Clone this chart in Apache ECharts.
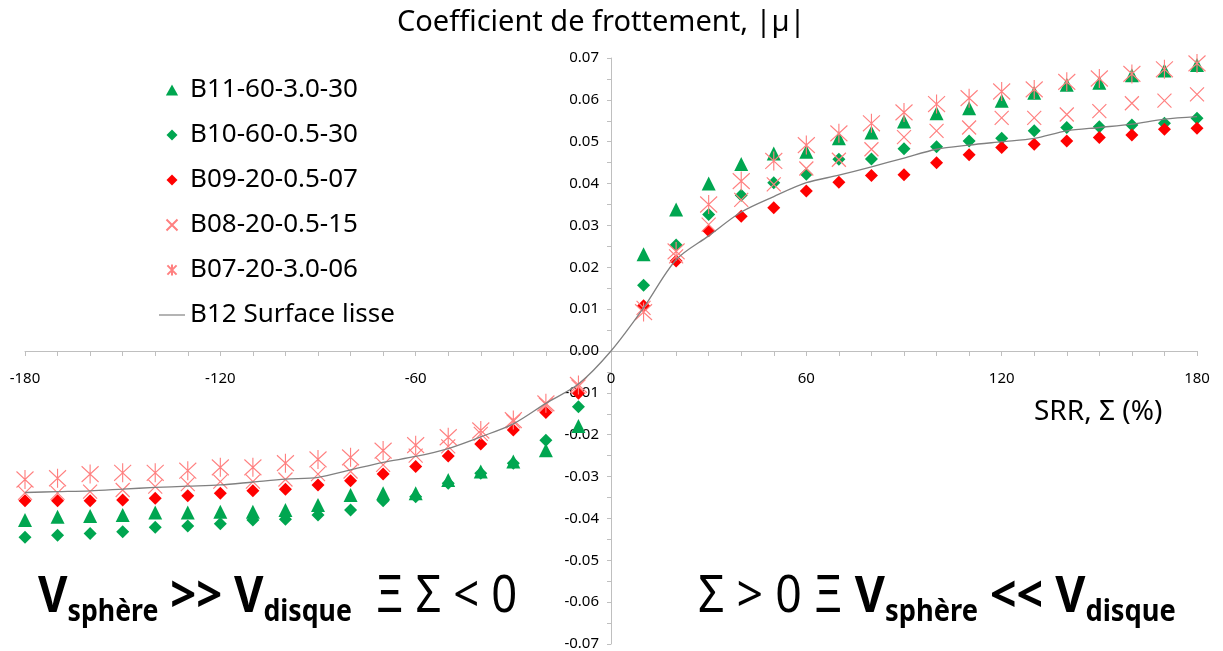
<!DOCTYPE html>
<html>
<head>
<meta charset="utf-8">
<script src="https://cdn.jsdelivr.net/npm/echarts@6/dist/echarts.min.js"></script>
<style>
html,body{margin:0;padding:0;background:#fff;}
#chart{width:1223px;height:651px;}
</style>
</head>
<body>
<div id="chart"></div>
<script>
// SRR values (%) for the scatter series
var srr = [-180,-170,-160,-150,-140,-130,-120,-110,-100,-90,-80,-70,-60,-50,-40,-30,-20,-10,
           10,20,30,40,50,60,70,80,90,100,110,120,130,140,150,160,170,180];
// SRR values for the smooth-surface reference line
var srrLine = [-180,-170,-160,-150,-140,-130,-120,-110,-100,-90,-80,-70,-60,-50,-40,-30,-20,-10,0,
               10,20,30,40,50,60,70,80,90,100,110,120,130,140,150,160,170,180];

var seriesNames = ['B11-60-3.0-30','B10-60-0.5-30','B09-20-0.5-07','B08-20-0.5-15','B07-20-3.0-06','B12 Surface lisse'];

var b11 = [-0.0404,-0.0396,-0.0394,-0.0392,-0.0386,-0.0386,-0.0384,-0.0384,-0.0380,-0.0368,-0.0344,-0.0340,-0.0340,-0.0308,-0.0288,-0.0264,-0.0237,-0.0179,
           0.0231,0.0338,0.0400,0.0447,0.0472,0.0476,0.0508,0.0522,0.0548,0.0568,0.0580,0.0598,0.0617,0.0636,0.0641,0.0659,0.0670,0.0683];
var b10 = [-0.0445,-0.0440,-0.0436,-0.0432,-0.0421,-0.0418,-0.0413,-0.0404,-0.0402,-0.0392,-0.0380,-0.0358,-0.0348,-0.0316,-0.0292,-0.0268,-0.0213,-0.0133,
           0.0157,0.0253,0.0326,0.0372,0.0402,0.0422,0.0458,0.0459,0.0483,0.0488,0.0502,0.0508,0.0526,0.0534,0.0536,0.0540,0.0544,0.0556];
var b09 = [-0.0358,-0.0358,-0.0358,-0.0356,-0.0352,-0.0346,-0.0340,-0.0334,-0.0330,-0.0320,-0.0310,-0.0294,-0.0276,-0.0251,-0.0222,-0.0189,-0.0147,-0.0101,
           0.0108,0.0215,0.0287,0.0322,0.0342,0.0382,0.0403,0.0419,0.0421,0.0450,0.0469,0.0486,0.0494,0.0502,0.0510,0.0516,0.0530,0.0532];
var b08 = [-0.0339,-0.0339,-0.0336,-0.0332,-0.0324,-0.0318,-0.0312,-0.0312,-0.0307,-0.0294,-0.0288,-0.0272,-0.0250,-0.0228,-0.0198,-0.0168,-0.0128,-0.0085,
           0.0103,0.0226,0.0302,0.0361,0.0398,0.0436,0.0457,0.0482,0.0511,0.0526,0.0534,0.0557,0.0557,0.0565,0.0573,0.0592,0.0598,0.0613];
var b07 = [-0.0307,-0.0304,-0.0294,-0.0291,-0.0291,-0.0286,-0.0278,-0.0278,-0.0268,-0.0259,-0.0254,-0.0238,-0.0225,-0.0206,-0.0190,-0.0165,-0.0125,-0.0081,
           0.0093,0.0238,0.0350,0.0406,0.0454,0.0492,0.0520,0.0544,0.0570,0.0590,0.0604,0.0620,0.0625,0.0643,0.0651,0.0662,0.0673,0.0687];
var b12 = [-0.0338,-0.0336,-0.0334,-0.0330,-0.0326,-0.0323,-0.0320,-0.0313,-0.0306,-0.0302,-0.0284,-0.0266,-0.0252,-0.0233,-0.0205,-0.0174,-0.0125,-0.0079,0,
           0.0103,0.0218,0.0275,0.0332,0.0369,0.0402,0.0420,0.0440,0.0461,0.0482,0.0492,0.0500,0.0508,0.0526,0.0534,0.0542,0.0554,0.0560];

var xTickMin = -180, xTickMax = 180, xTickStep = 60;
var yTickMin = -0.07, yTickMax = 0.07, yTickStep = 0.01;

function pairs(xs, ys){ return xs.map(function(x,i){ return [x, ys[i]]; }); }

var GREEN = '#00A650', RED = '#FF0000', PINK = '#FF8080', GREY = '#808080';
var FONT = "'Noto Sans', 'Open Sans', sans-serif";
var BIGFONT = "'Noto Sans', sans-serif";

var W = 1223, H = 651;
var G = {left: 25, right: 26, top: 58, bottom: 7};
var gridW = W - G.left - G.right, gridH = H - G.top - G.bottom;

var chart = echarts.init(document.getElementById('chart'), null, {renderer:'canvas'});

var subStyle = {fontSize: 30, fontWeight: 'bold', fontFamily: BIGFONT, color:'#000', verticalAlign:'top', lineHeight: 64, padding:[25,0,0,0]};
var mainBold = {fontSize: 51, fontWeight: 'bold', fontFamily: BIGFONT, color:'#000', verticalAlign:'top', lineHeight: 64};
var mainReg = {fontSize: 51, fontWeight: 'normal', fontFamily: BIGFONT, color:'#000', verticalAlign:'top', lineHeight: 64};

var TRI = 'path://M5,0L10,9L0,9Z';
var DIA = 'path://M5,0L10,5L5,10L0,5Z';
var XMARK = 'path://M0,0L10,10M10,0L0,10';
var STAR = 'path://M0,0L10,10M10,0L0,10M5,-1L5,11';

var option = {
  animation: false,
  backgroundColor: '#fff',
  grid: {left: G.left, right: G.right, top: G.top, bottom: G.bottom, containLabel: false, outerBoundsMode: 'none'},
  xAxis: {
    type: 'value', min: xTickMin, max: xTickMax, interval: xTickStep,
    position: 'bottom', offset: -gridH / 2,
    axisLine: {onZero: false, lineStyle: {color: '#BFBFBF', width: 1}},
    axisTick: {show: true, length: 5, lineStyle: {color: '#BFBFBF'}},
    minorTick: {show: true, splitNumber: 6, length: 5, lineStyle: {color: '#BFBFBF'}},
    splitLine: {show: false},
    axisLabel: {fontSize: 15, color: '#000', fontFamily: FONT, margin: 20}
  },
  yAxis: {
    type: 'value', min: yTickMin, max: yTickMax, interval: yTickStep,
    position: 'left', offset: -gridW / 2,
    axisLine: {onZero: false, show: true, lineStyle: {color: '#BFBFBF', width: 1}},
    axisTick: {show: true, length: 4, lineStyle: {color: '#BFBFBF'}},
    minorTick: {show: true, splitNumber: 2, length: 4, lineStyle: {color: '#BFBFBF'}},
    splitLine: {show: false},
    axisLabel: {fontSize: 15, color: '#000', fontFamily: FONT, margin: 12,
      formatter: function(v){ return v.toFixed(2); }}
  },
  legend: {
    orient: 'vertical', left: 154, top: 72, itemGap: 19, itemWidth: 26, itemHeight: 11,
    textStyle: {fontSize: 26, color: '#000', fontFamily: FONT, lineHeight: 25},
    data: [
      {name: seriesNames[0], icon: TRI},
      {name: seriesNames[1], icon: DIA},
      {name: seriesNames[2], icon: DIA},
      {name: seriesNames[3], icon: XMARK},
      {name: seriesNames[4], icon: STAR},
      {name: seriesNames[5], icon: 'path://M0,0L22,0L22,1L0,1Z'}
    ]
  },
  series: [
    {name: seriesNames[0], type: 'scatter', symbol: 'triangle', symbolSize: 14,
     itemStyle: {color: GREEN, opacity: 1}, data: pairs(srr, b11)},
    {name: seriesNames[1], type: 'scatter', symbol: 'diamond', symbolSize: 13,
     itemStyle: {color: GREEN, opacity: 1}, data: pairs(srr, b10)},
    {name: seriesNames[2], type: 'scatter', symbol: 'diamond', symbolSize: 13,
     itemStyle: {color: RED, opacity: 1}, data: pairs(srr, b09)},
    {name: seriesNames[3], type: 'scatter', symbol: XMARK, symbolSize: 14,
     itemStyle: {color: PINK, borderColor: PINK, borderWidth: 1.2, opacity: 1}, data: pairs(srr, b08)},
    {name: seriesNames[4], type: 'scatter', symbol: STAR, symbolSize: [17,19],
     itemStyle: {color: PINK, borderColor: PINK, borderWidth: 1.2, opacity: 1}, data: pairs(srr, b07)},
    {name: seriesNames[5], type: 'line', symbol: 'none', smooth: 0.3,
     lineStyle: {color: GREY, width: 1.3}, itemStyle: {color: GREY}, data: pairs(srrLine, b12)}
  ],
  graphic: [
    {type: 'text', x: 397, y: 8,
     style: {text: 'Coefficient de frottement, |µ|', fontSize: 29, fontFamily: FONT, fill: '#000'}},
    {type: 'text', x: 1034, y: 398,
     style: {text: 'SRR, Σ (%)', fontSize: 28, fontFamily: FONT, fill: '#000'}},
    {type: 'text', x: 38, y: 572, scaleX: 0.89, originX: 0, originY: 0,
     style: {
       text: '{mb|V}{sb|sphère}{mb| >> V}{sb|disque}{mr|  Ξ Σ < 0}',
       rich: {mb: mainBold, sb: subStyle, mr: mainReg}
     }},
    {type: 'text', x: 698, y: 572, scaleX: 0.91, originX: 0, originY: 0,
     style: {
       text: '{mr|Σ > 0 Ξ }{mb|V}{sb|sphère}{mb| << V}{sb|disque}',
       rich: {mb: mainBold, sb: subStyle, mr: mainReg}
     }}
  ]
};
chart.setOption(option);
</script>
</body>
</html>
